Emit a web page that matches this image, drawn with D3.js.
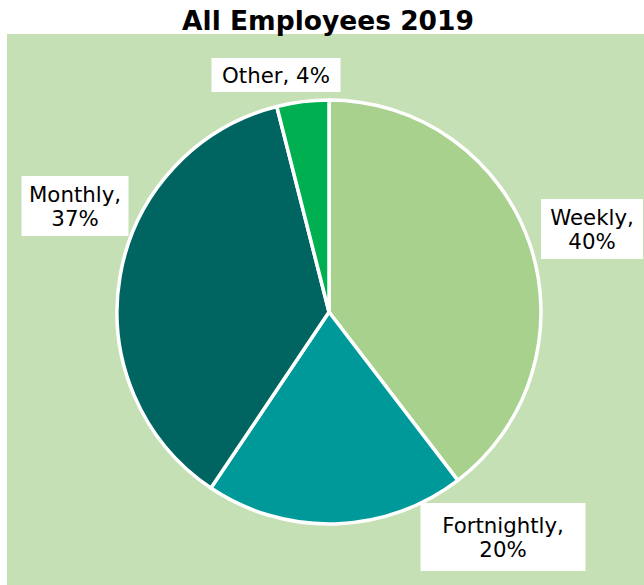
<!DOCTYPE html>
<html>
<head>
<meta charset="utf-8">
<script src="https://cdn.jsdelivr.net/npm/d3@7"></script>
<style>
  body { margin: 0; background: #fff; }
  svg { display: block; font-family: "DejaVu Sans", Verdana, sans-serif; }
</style>
</head>
<body>
<svg id="chart" width="644" height="585"></svg>
<script>
const categories = ['Weekly', 'Fortnightly', 'Monthly', 'Other'];
const shares = [40, 20, 37, 4]; // percent, as printed on the labels
const colors = ['#a9d18e', '#00999a', '#006561', '#00b050'];

const WIDTH = 644;
const HEIGHT = 585;
const CX = 329; // pie centre
const CY = 312;
const RADIUS = 212;
const FONT_SIZE = 21.3;
const LINE_HEIGHT = 24;

// label boxes, placed by hand like the original: centre offset from pie centre and box size
const labelLayout = [
  { dx: 263, dy: -83, w: 102, h: 60 },
  { dx: 174, dy: 225, w: 165, h: 68 },
  { dx: -254, dy: -106, w: 107, h: 60 },
  { dx: -53, dy: -237, w: 129, h: 34 }
];

const svg = d3.select('#chart');

// plot area background
svg.append('rect')
  .attr('x', 7)
  .attr('y', 34)
  .attr('width', WIDTH - 7)
  .attr('height', HEIGHT - 34)
  .attr('fill', '#c5e0b4');

svg.append('text')
  .attr('x', 328)
  .attr('y', 30)
  .attr('text-anchor', 'middle')
  .attr('font-size', 26.5)
  .attr('font-weight', 'bold')
  .attr('fill', '#000')
  .text('All Employees 2019');

const data = categories.map((c, i) => ({ name: c, value: shares[i], color: colors[i] }));

const pie = d3.pie().sort(null).value(d => d.value);
const arc = d3.arc().innerRadius(0).outerRadius(RADIUS);

const g = svg.append('g').attr('transform', `translate(${CX}, ${CY})`);

g.selectAll('path')
  .data(pie(data))
  .enter()
  .append('path')
  .attr('d', arc)
  .attr('fill', d => d.data.color)
  .attr('stroke', '#fff')
  .attr('stroke-width', 3.5)
  .attr('stroke-linejoin', 'round');

const labels = g.selectAll('.label')
  .data(data)
  .enter()
  .append('g')
  .attr('class', 'label')
  .attr('transform', (d, i) => `translate(${labelLayout[i].dx}, ${labelLayout[i].dy})`);

labels.append('rect')
  .attr('x', (d, i) => -labelLayout[i].w / 2)
  .attr('y', (d, i) => -labelLayout[i].h / 2)
  .attr('width', (d, i) => labelLayout[i].w)
  .attr('height', (d, i) => labelLayout[i].h)
  .attr('fill', '#fff');

labels.each(function (d, i) {
  const lab = d3.select(this);
  const lines = i === 3 ? [`${d.name}, ${d.value}%`] : [`${d.name},`, `${d.value}%`];
  const text = lab.append('text')
    .attr('text-anchor', 'middle')
    .attr('font-size', FONT_SIZE)
    .attr('fill', '#000');
  const firstY = -((lines.length - 1) * LINE_HEIGHT) / 2 + FONT_SIZE * 0.36;
  lines.forEach((line, k) => {
    text.append('tspan')
      .attr('x', 0)
      .attr('y', firstY + k * LINE_HEIGHT)
      .text(line);
  });
});
</script>
</body>
</html>
